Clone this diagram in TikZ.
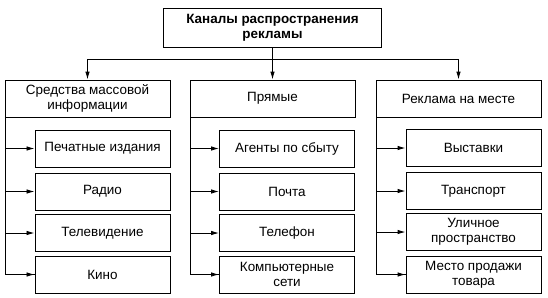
\documentclass[tikz,border=0pt]{standalone}
\usepackage{fontspec}
\setmainfont{Liberation Sans}
\usetikzlibrary{arrows.meta}

\tikzset{
  box/.style={draw, line width=0.9bp, align=center, inner sep=1bp, font=\fontsize{13.5}{15}\selectfont},
  headbox/.style={box, minimum width=165bp, minimum height=37bp},
  itembox/.style={box, minimum width=135bp, minimum height=37bp},
  wire/.style={line width=0.9bp},
  link/.style={wire, -{Latex[length=8bp,width=4.5bp]}},
}

\begin{document}
\begin{tikzpicture}[x=1bp, y=-1bp]
        \useasboundingbox (0,0) rectangle (548,297);

        % Root
        \node[box, minimum width=218bp, minimum height=39bp, font=\bfseries\fontsize{13.5}{15}\selectfont] (top) at (272.5,27.5) {Каналы распространения\\рекламы};

        % Column heads
        \node[headbox] (smi) at (87.5,98.5) {Средства массовой\\информации};
        \node[headbox] (direct) at (272.5,98.5) {Прямые};
        \node[headbox] (onsite) at (458.5,98.5) {Реклама на месте};

        % Left column
        \node[itembox] (smi1) at (102.5,148.5) {Печатные издания};
        \node[itembox] (smi2) at (102.5,191.5) {Радио};
        \node[itembox] (smi3) at (102.5,233) {Телевидение};
        \node[itembox] (smi4) at (102.5,274.5) {Кино};

        % Middle column
        \node[itembox] (direct1) at (287,148.5) {Агенты по сбыту};
        \node[itembox] (direct2) at (287,191.5) {Почта};
        \node[itembox] (direct3) at (287,233) {Телефон};
        \node[itembox] (direct4) at (287,274.5) {Компьютерные\\сети};

        % Right column
        \node[itembox] (onsite1) at (473.5,148) {Выставки};
        \node[itembox] (onsite2) at (473.5,191) {Транспорт};
        \node[itembox] (onsite3) at (473.5,232) {Уличное\\пространство};
        \node[itembox] (onsite4) at (473.5,274.5) {Место продажи\\товара};

        % Root to heads
        \coordinate (fork) at (272.5,59);
        \draw[link] (top.south) -- (direct.north);
        \draw[link] (fork) -| (smi.north);
        \draw[link] (fork) -| (onsite.north);

        % Spines
        \coordinate (smiS) at ([xshift=1bp]smi.south west);
        \coordinate (directS) at ([xshift=1bp]direct.south west);
        \coordinate (onsiteS) at ([xshift=1bp]onsite.south west);
        \draw[wire] (smiS) |- (smi4.west);
        \draw[wire] (directS) |- (direct4.west);
        \draw[wire] (onsiteS) |- (onsite4.west);

        % Arrows to items
        \draw[link] (smiS |- smi1.west) -- (smi1.west);
        \draw[link] (smiS |- smi2.west) -- (smi2.west);
        \draw[link] (smiS |- smi3.west) -- (smi3.west);
        \draw[link] (smiS |- smi4.west) -- (smi4.west);
        \draw[link] (directS |- direct1.west) -- (direct1.west);
        \draw[link] (directS |- direct2.west) -- (direct2.west);
        \draw[link] (directS |- direct3.west) -- (direct3.west);
        \draw[link] (directS |- direct4.west) -- (direct4.west);
        \draw[link] (onsiteS |- onsite1.west) -- (onsite1.west);
        \draw[link] (onsiteS |- onsite2.west) -- (onsite2.west);
        \draw[link] (onsiteS |- onsite3.west) -- (onsite3.west);
        \draw[link] (onsiteS |- onsite4.west) -- (onsite4.west);
    \end{tikzpicture}
\end{document}
